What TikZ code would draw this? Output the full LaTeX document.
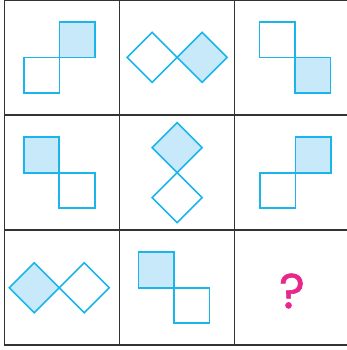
\documentclass[tikz,border=0pt]{standalone}
\usepackage{fontspec}
\newfontfamily\qfont{Poppins}[FakeBold=1.2]
\usetikzlibrary{positioning,shapes.geometric}
\definecolor{cyanline}{HTML}{1CB5EB}
\definecolor{cyanfill}{HTML}{C7E9F9}
\definecolor{qmark}{HTML}{E8278C}
\definecolor{gridline}{HTML}{333333}
\begin{document}
\begin{tikzpicture}[x=1pt,y=-1pt,
    cell/.style={rectangle,draw=gridline,line width=1.4pt,minimum size=115pt,inner sep=0pt,outer sep=0pt},
    sq/.style={rectangle,draw=cyanline,line width=1.7pt,minimum size=35.5pt,inner sep=0pt,outer sep=0pt},
    dia/.style={diamond,draw=cyanline,line width=1.6pt,minimum size=50pt,inner sep=0pt,outer sep=0pt},
    shaded/.style={fill=cyanfill}]
      \useasboundingbox (0,0) rectangle (346,350);
      % grid
      \node (c11) [cell] at (62,57.5) {};
      \node (c12) [cell,right=0pt of c11] {};
      \node (c13) [cell,right=0pt of c12] {};
      \node (c21) [cell,below=0pt of c11] {};
      \node (c22) [cell,right=0pt of c21] {};
      \node (c23) [cell,right=0pt of c22] {};
      \node (c31) [cell,below=0pt of c21] {};
      \node (c32) [cell,right=0pt of c31] {};
      \node (c33) [cell,right=0pt of c32] {};
      % row 1
      \node (a1) [sq,shaded] at (77.1,39.7) {};
      \node (a2) [sq,below left=0pt and 0pt of a1] {};
      \node (b1) [dia] at (152.1,57.3) {};
      \node (b2) [dia,shaded,right=0pt of b1] {};
      \node (e1) [sq] at (277.3,39.7) {};
      \node (e2) [sq,shaded,below right=0pt and 0pt of e1] {};
      % row 2
      \node (d1) [sq,shaded] at (41.5,154.9) {};
      \node (d2) [sq,below right=0pt and 0pt of d1] {};
      \node (f1) [dia,shaded] at (177.1,147.6) {};
      \node (f2) [dia,below=0pt of f1] {};
      \node (g1) [sq,shaded] at (313.1,154.9) {};
      \node (g2) [sq,below left=0pt and 0pt of g1] {};
      % row 3
      \node (h1) [dia,shaded] at (34.3,287.7) {};
      \node (h2) [dia,right=0pt of h1] {};
      \node (k1) [sq,shaded] at (156.2,270) {};
      \node (k2) [sq,below right=0pt and 0pt of k1] {};
      \node (q) [text=qmark,font=\qfont\fontsize{49}{49}\selectfont] at (292,291) {?};
\end{tikzpicture}
\end{document}
